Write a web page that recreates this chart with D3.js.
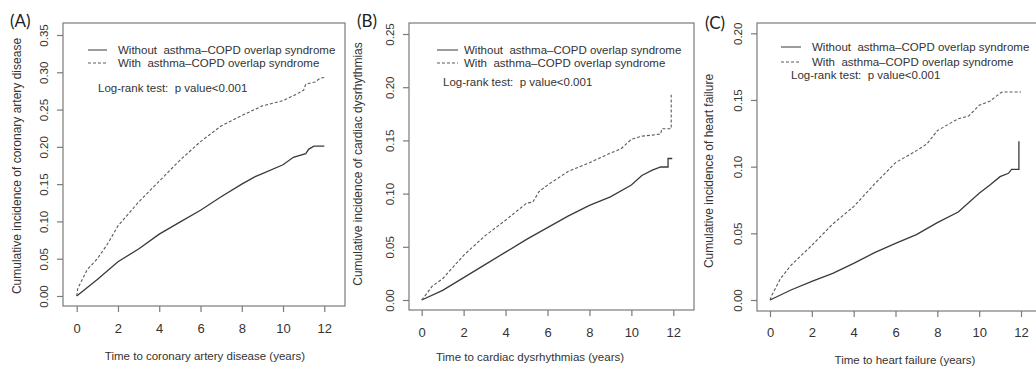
<!DOCTYPE html>
<html>
<head>
<meta charset="utf-8">
<script src="https://cdn.jsdelivr.net/npm/d3@7"></script>
<style>
  body { margin: 0; background: #fff; }
  svg { display: block; font-family: "Liberation Sans", Arial, sans-serif; }
</style>
</head>
<body>
<div id="chart"></div>
<script>
// [years, cumulative incidence]
const cadWithout = [[0,0],[0.5,0.011],[1,0.022],[2,0.046],[3,0.063],[4,0.083],[5,0.099],[6,0.115],[7,0.133],[8,0.150],[8.65,0.160],[9,0.164],[10,0.176],[10.5,0.186],[11.1,0.191],[11.25,0.197],[11.5,0.201],[12,0.201]];
const cadWith = [[0,0],[0.05,0.010],[0.5,0.035],[1,0.050],[1.5,0.070],[2,0.094],[3,0.126],[4,0.154],[5,0.182],[6,0.207],[7,0.228],[8,0.242],[9,0.255],[10,0.262],[10.6,0.270],[11,0.276],[11.1,0.284],[11.55,0.287],[11.8,0.292],[12,0.293]];

const dysWithout = [[0,0],[1,0.009],[2,0.021],[3,0.033],[4,0.045],[5,0.057],[6,0.068],[7,0.079],[8,0.089],[9,0.097],[10,0.108],[10.5,0.117],[11,0.122],[11.4,0.125],[11.75,0.125],[11.75,0.133],[11.95,0.133]];
const dysWith = [[0,0],[0.2,0.005],[0.5,0.013],[1,0.020],[1.5,0.031],[2,0.042],[3,0.060],[4,0.075],[5,0.091],[5.3,0.092],[5.6,0.102],[6,0.108],[7,0.121],[8,0.129],[9,0.138],[9.5,0.142],[10,0.151],[10.5,0.154],[11,0.155],[11.4,0.156],[11.45,0.161],[11.9,0.161],[11.9,0.193]];

const hfWithout = [[0,0],[1,0.0075],[2,0.014],[3,0.020],[4,0.0275],[5,0.0355],[6,0.0425],[7,0.049],[8,0.058],[9,0.066],[10,0.080],[10.5,0.086],[11,0.0925],[11.4,0.095],[11.55,0.098],[11.9,0.098],[11.9,0.119]];
const hfWith = [[0,0],[0.1,0.004],[0.5,0.016],[1,0.026],[2,0.041],[3,0.057],[4,0.070],[5,0.087],[6,0.103],[7,0.112],[7.5,0.117],[8,0.127],[9,0.136],[9.5,0.138],[10,0.146],[10.5,0.149],[11,0.155],[11.1,0.156],[12,0.156]];

const xTicks = [0, 2, 4, 6, 8, 10, 12];
const yTicksA = [0, 0.05, 0.10, 0.15, 0.20, 0.25, 0.30, 0.35];
const yTicksB = [0, 0.05, 0.10, 0.15, 0.20, 0.25];
const yTicksC = [0, 0.05, 0.10, 0.15, 0.20];

const legendLabels = ['Without  asthma\u2013COPD overlap syndrome', 'With  asthma\u2013COPD overlap syndrome'];
const pText = 'Log-rank test:  p value<0.001';

const width = 1036, height = 367;
const svg = d3.select('#chart').append('svg')
  .attr('width', width)
  .attr('height', height);

const panels = [
  { tag: '(A)', series: [cadWithout, cadWith], yTicks: yTicksA, yMax: 0.35,
    ytitle: 'Cumulative incidence of coronary artery disease',
    xtitle: 'Time to coronary artery disease (years)',
    box: [63, 23, 345, 306], xr: [76.7, 324.3], yr: [296, 35],
    tagPos: [10, 27], yLabX: 47.5, yTitX: 21, yTitY: 166, xLabY: 333, xTitY: 360, xTitX: 205,
    leg: { x0: 88, x1: 107, ys: [50, 63], tx: 118, px: 98, py: 92 } },
  { tag: '(B)', series: [dysWithout, dysWith], yTicks: yTicksB, yMax: 0.25,
    ytitle: 'Cumulative incidence of cardiac dysrhythmias',
    xtitle: 'Time to cardiac dysrhythmias (years)',
    box: [409, 23, 694, 310], xr: [421.7, 673.3], yr: [300, 34],
    tagPos: [357, 27], yLabX: 393.5, yTitX: 362, yTitY: 164, xLabY: 337, xTitY: 361, xTitX: 530,
    leg: { x0: 437, x1: 458, ys: [50, 63], tx: 464, px: 443, py: 86 } },
  { tag: '(C)', series: [hfWithout, hfWith], yTicks: yTicksC, yMax: 0.20,
    ytitle: 'Cumulative incidence of heart failure',
    xtitle: 'Time to heart failure (years)',
    box: [757, 23, 1045, 311], xr: [770, 1021], yr: [300, 33.3],
    tagPos: [705, 29], yLabX: 742, yTitX: 713, yTitY: 171, xLabY: 337, xTitY: 364, xTitX: 905,
    leg: { x0: 781, x1: 801, ys: [47, 62], tx: 812, px: 791, py: 79 } }
];

const ink = '#333';
const axisGrey = '#7a7a7a';
const dash = '3,2';

panels.forEach(p => {
  const x = d3.scaleLinear().domain([0, 12]).range(p.xr);
  const y = d3.scaleLinear().domain([0, p.yMax]).range(p.yr);
  const g = svg.append('g');

  // plot frame
  g.append('rect')
    .attr('x', p.box[0]).attr('y', p.box[1])
    .attr('width', p.box[2] - p.box[0]).attr('height', p.box[3] - p.box[1])
    .attr('fill', 'none').attr('stroke', axisGrey).attr('stroke-width', 1.2);

  // x axis
  const xa = g.append('g')
    .attr('transform', `translate(0,${p.box[3]})`)
    .call(d3.axisBottom(x).tickValues(xTicks).tickFormat(d3.format('d')).tickSize(6).tickSizeOuter(0));
  xa.select('.domain').remove();
  xa.selectAll('line').attr('stroke', axisGrey).attr('stroke-width', 1.2);
  xa.selectAll('text')
    .attr('y', p.xLabY - p.box[3]).attr('dy', null)
    .attr('fill', ink).style('font-size', '13px').style('font-family', null);

  // y axis, labels rotated like base R
  const ya = g.append('g')
    .attr('transform', `translate(${p.box[0]},0)`)
    .call(d3.axisLeft(y).tickValues(p.yTicks).tickFormat(d3.format('.2f')).tickSize(6).tickSizeOuter(0));
  ya.select('.domain').remove();
  ya.selectAll('line').attr('stroke', axisGrey).attr('stroke-width', 1.2);
  ya.selectAll('text')
    .attr('x', null).attr('dy', null)
    .attr('text-anchor', 'middle')
    .attr('transform', `translate(${p.yLabX - p.box[0]},0) rotate(-90)`)
    .attr('fill', ink).style('font-size', '11.5px').style('font-family', null);

  // curves
  const line = d3.line().x(d => x(d[0])).y(d => y(d[1]));
  p.series.forEach((s, i) => {
    g.append('path')
      .datum(s)
      .attr('fill', 'none')
      .attr('stroke', i === 0 ? '#3a3a3a' : '#5a5a5a')
      .attr('stroke-width', i === 0 ? 1.3 : 1.1)
      .attr('stroke-dasharray', i === 0 ? null : dash)
      .attr('d', line);
  });

  // legend
  p.leg.ys.forEach((ly, i) => {
    g.append('line')
      .attr('x1', p.leg.x0).attr('x2', p.leg.x1)
      .attr('y1', ly).attr('y2', ly)
      .attr('stroke', i === 0 ? '#3a3a3a' : '#5a5a5a')
      .attr('stroke-width', 1)
      .attr('stroke-dasharray', i === 0 ? null : dash);
    g.append('text')
      .attr('x', p.leg.tx).attr('y', ly + 4)
      .attr('fill', ink).style('font-size', '11.5px')
      .style('white-space', 'pre')
      .text(legendLabels[i]);
  });
  g.append('text')
    .attr('x', p.leg.px).attr('y', p.leg.py)
    .attr('fill', ink).style('font-size', '11.5px')
    .style('white-space', 'pre')
    .text(pText);

  // axis titles
  g.append('text')
    .attr('x', p.xTitX).attr('y', p.xTitY)
    .attr('text-anchor', 'middle')
    .attr('fill', ink).style('font-size', '11.5px')
    .text(p.xtitle);
  g.append('text')
    .attr('transform', `translate(${p.yTitX},${p.yTitY}) rotate(-90)`)
    .attr('text-anchor', 'middle')
    .attr('fill', ink).style('font-size', '12px')
    .text(p.ytitle);

  // panel tag
  g.append('text')
    .attr('x', p.tagPos[0]).attr('y', p.tagPos[1])
    .attr('fill', '#222')
    .style('font-family', 'Lato, "Open Sans", sans-serif')
    .style('font-size', '17px')
    .text(p.tag);
});
</script>
</body>
</html>
